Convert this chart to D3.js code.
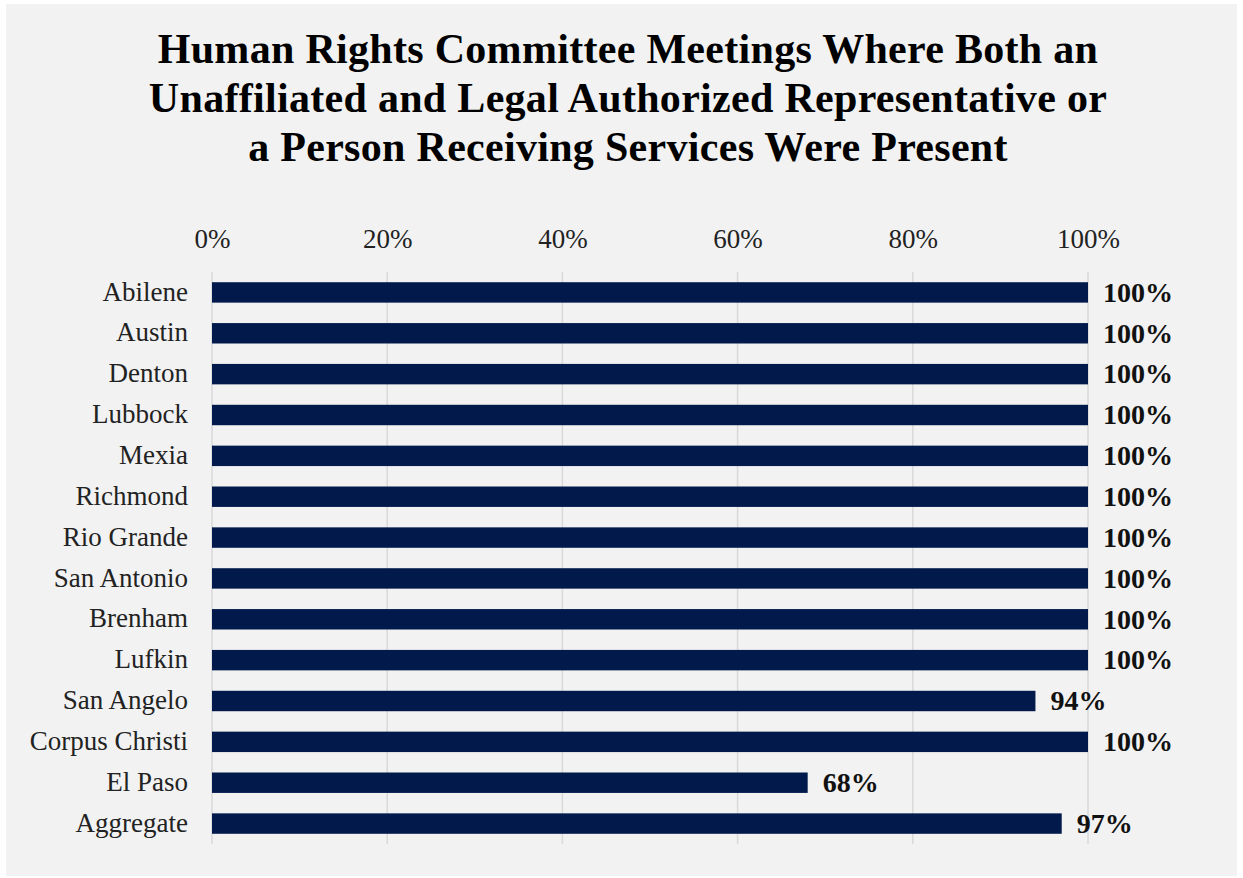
<!DOCTYPE html>
<html>
<head>
<meta charset="utf-8">
<script src="https://cdn.jsdelivr.net/npm/d3@7"></script>
<style>
  html, body { margin: 0; padding: 0; background: #ffffff; }
  svg { display: block; }
</style>
</head>
<body>
<svg id="chart" width="1243" height="878"></svg>
<script>
// Chart data
const categories = ["Abilene", "Austin", "Denton", "Lubbock", "Mexia", "Richmond", "Rio Grande",
  "San Antonio", "Brenham", "Lufkin", "San Angelo", "Corpus Christi", "El Paso", "Aggregate"];
const values = [100, 100, 100, 100, 100, 100, 100, 100, 100, 100, 94, 100, 68, 97];
const tickValues = [0, 20, 40, 60, 80, 100];
const titleLines = [
  "Human Rights Committee Meetings Where Both an",
  "Unaffiliated and Legal Authorized Representative or",
  "a Person Receiving Services Were Present"
];

const W = 1243, H = 878;
const serif = "'Liberation Serif', 'Times New Roman', serif";
const svg = d3.select("#chart");

// Panel background
svg.append("rect")
  .attr("x", 6).attr("y", 4)
  .attr("width", W - 12).attr("height", H - 6)
  .attr("fill", "#f2f2f2");

// Title
svg.append("g")
  .selectAll("text")
  .data(titleLines)
  .join("text")
  .attr("x", 628)
  .attr("y", (d, i) => 63 + i * 49)
  .attr("text-anchor", "middle")
  .attr("font-family", serif)
  .attr("font-weight", "bold")
  .attr("font-size", 42)
  .attr("letter-spacing", 0.3)
  .attr("fill", "#000")
  .text(d => d);

const margin = { left: 212, right: 1088, top: 272, bottom: 844 };

const x = d3.scaleLinear().domain([0, 100]).range([margin.left, margin.right]);
const y = d3.scaleBand().domain(categories).range([margin.top, margin.bottom]).paddingInner(0.5).paddingOuter(0.25);

// Gridlines
svg.append("g")
  .selectAll("line")
  .data(tickValues)
  .join("line")
  .attr("x1", d => x(d)).attr("x2", d => x(d))
  .attr("y1", margin.top).attr("y2", margin.bottom)
  .attr("stroke", "#d9d9d9")
  .attr("stroke-width", 1.5);

// Top axis
const xAxis = d3.axisTop(x)
  .tickValues(tickValues)
  .tickFormat(d => d + "%")
  .tickSize(0)
  .tickPadding(0);
const axisG = svg.append("g")
  .attr("transform", `translate(0, 248)`)
  .call(xAxis);
axisG.select(".domain").remove();
axisG.selectAll("text")
  .attr("dy", 0)
  .attr("font-family", serif)
  .attr("font-size", 27)
  .attr("fill", "#222");

// Category axis
const yAxis = d3.axisLeft(y).tickSize(0).tickPadding(24);
const yG = svg.append("g")
  .attr("transform", `translate(${margin.left}, 0)`)
  .call(yAxis);
yG.select(".domain").remove();
yG.selectAll("text")
  .attr("dy", "0.3em")
  .attr("font-family", serif)
  .attr("font-size", 27)
  .attr("fill", "#222");

// Bars
const data = categories.map((c, i) => ({ c, v: values[i] }));
svg.append("g")
  .selectAll("rect")
  .data(data)
  .join("rect")
  .attr("x", x(0))
  .attr("y", d => y(d.c))
  .attr("width", d => x(d.v) - x(0))
  .attr("height", y.bandwidth())
  .attr("fill", "#021a4b");

// Value labels
svg.append("g")
  .selectAll("text")
  .data(data)
  .join("text")
  .attr("x", d => x(d.v) + 15)
  .attr("y", d => y(d.c) + y.bandwidth() / 2)
  .attr("dy", "0.33em")
  .attr("font-family", serif)
  .attr("font-weight", "bold")
  .attr("font-size", 28)
  .attr("fill", "#111")
  .text(d => d.v + "%");
</script>
</body>
</html>
